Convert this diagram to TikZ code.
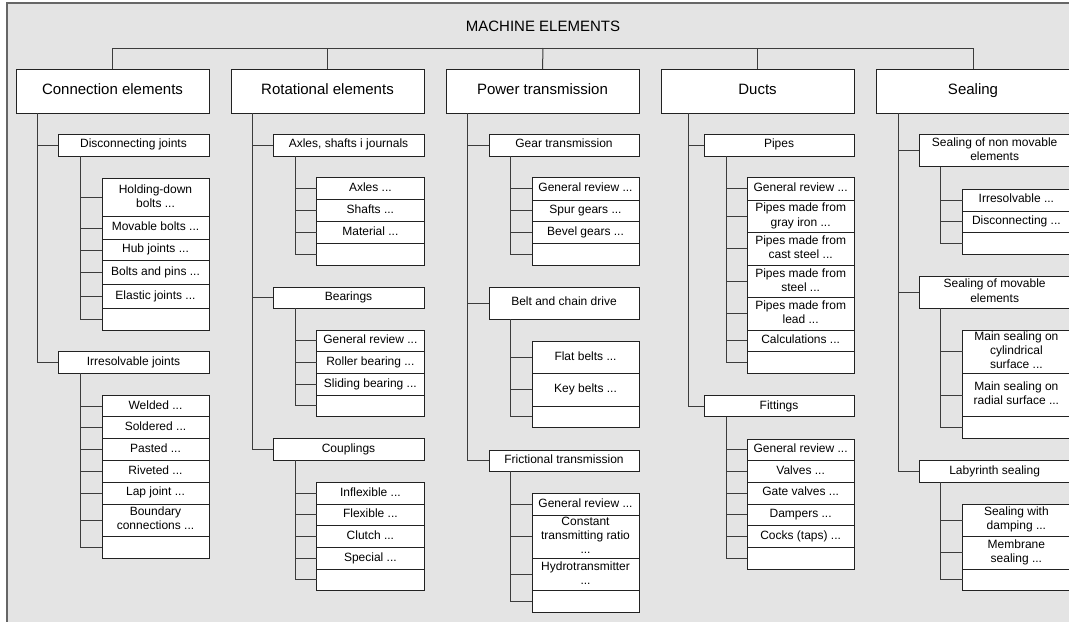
\documentclass[tikz,border=0pt]{standalone}
\usepackage{fontspec}
\setmainfont{Liberation Sans}
\usetikzlibrary{calc}
\definecolor{panelfill}{HTML}{E4E4E4}
\definecolor{framec}{HTML}{666666}
\definecolor{edgec}{HTML}{222222}
\definecolor{linkc}{HTML}{3C3C3C}
% box from its corners: name, x1, y1, x2, y2, style, text
\newcommand\bx[7]{\node[#6, minimum width={((#4)-(#2))*0.75pt}, minimum height={((#5)-(#3))*0.75pt}] (#1) at ({((#2)+(#4))/2},{((#3)+(#5))/2}) {#7};}
% elbow connector: parent, child, offset of the trunk from the parent's left side
\newcommand\lk[3]{\draw[linkline] ($(#1.south west)+(#3,0)$) |- (#2.west);}
% struts that keep the baselines of all boxes at the same height
\newcommand\smallstrut{\rule[-2.2pt]{0pt}{8.2pt}}
\newcommand\bigstrut{\rule[-2.5pt]{0pt}{10pt}}
\begin{document}
\begin{tikzpicture}[x=0.75pt,y=-0.75pt,
  box/.style={draw=edgec, fill=white, line width=0.75pt, inner sep=0pt, outer sep=0pt, align=center},
  topbox/.style={box, font=\fontsize{11.25}{13.5}\selectfont,
    execute at begin node=\bigstrut, execute at end node=\bigstrut},
  subbox/.style={box, font=\fontsize{9}{10.6}\selectfont,
    execute at begin node=\smallstrut, execute at end node=\smallstrut},
  linkline/.style={draw=linkc, line width=0.75pt}]
\useasboundingbox (0,0) rectangle (1069,621);
\fill[panelfill] (7,3) rectangle (1085,640);
\draw[framec, line width=1.3pt] (7,3) rectangle (1085,640);

\node[font=\fontsize{11.25}{13.5}\selectfont] (title) at (543,26.6) {MACHINE ELEMENTS};

% ---- Connection elements
\bx{ce}{16}{69}{209}{113}{topbox}{Connection elements}
\bx{dj}{58}{134}{209}{156}{subbox}{Disconnecting joints}
\bx{dja}{102}{178}{209}{216.7}{subbox}{Holding-down\\bolts ...}
\bx{djb}{102}{216.7}{209}{239.3}{subbox}{Movable bolts ...}
\bx{djc}{102}{239.3}{209}{260.7}{subbox}{Hub joints ...}
\bx{djd}{102}{260.7}{209}{284.3}{subbox}{Bolts and pins ...}
\bx{dje}{102}{284.3}{209}{308.3}{subbox}{Elastic joints ...}
\bx{djf}{102}{308.3}{209}{330}{subbox}{}
\bx{ij}{58}{351.7}{209}{373.3}{subbox}{Irresolvable joints}
\bx{ija}{102}{395.7}{209}{416.7}{subbox}{Welded ...}
\bx{ijb}{102}{416.7}{209}{438.7}{subbox}{Soldered ...}
\bx{ijc}{102}{438.7}{209}{460.3}{subbox}{Pasted ...}
\bx{ijd}{102}{460.3}{209}{482}{subbox}{Riveted ...}
\bx{ije}{102}{482}{209}{504}{subbox}{Lap joint ...}
\bx{ijf}{102}{504}{209}{536}{subbox}{Boundary\\connections ...}
\bx{ijg}{102}{536}{209}{558}{subbox}{}

% ---- Rotational elements
\bx{re}{231}{69}{424}{113}{topbox}{Rotational elements}
\bx{as}{273}{134}{424}{156}{subbox}{Axles, shafts i journals}
\bx{asa}{316.7}{177.7}{424}{199.5}{subbox}{Axles ...}
\bx{asb}{316.7}{199.5}{424}{221.7}{subbox}{Shafts ...}
\bx{asc}{316.7}{221.7}{424}{243.3}{subbox}{Material ...}
\bx{asd}{316.7}{243.3}{424}{265}{subbox}{}
\bx{be}{273}{287}{424}{308.3}{subbox}{Bearings}
\bx{bea}{316.7}{330}{424}{351.7}{subbox}{General review ...}
\bx{beb}{316.7}{351.7}{424}{373.3}{subbox}{Roller bearing ...}
\bx{bec}{316.7}{373.3}{424}{395}{subbox}{Sliding bearing ...}
\bx{bed}{316.7}{395}{424}{416.7}{subbox}{}
\bx{co}{273}{438.7}{424}{460.3}{subbox}{Couplings}
\bx{coa}{316.7}{482.7}{424}{504}{subbox}{Inflexible ...}
\bx{cob}{316.7}{504}{424}{525.7}{subbox}{Flexible ...}
\bx{coc}{316.7}{525.7}{424}{547.3}{subbox}{Clutch ...}
\bx{cod}{316.7}{547.3}{424}{569}{subbox}{Special ...}
\bx{coe}{316.7}{569}{424}{590.7}{subbox}{}

% ---- Power transmission
\bx{pt}{446}{69}{639}{113}{topbox}{Power transmission}
\bx{gt}{489}{134}{639}{156}{subbox}{Gear transmission}
\bx{gta}{532}{177.7}{639}{200}{subbox}{General review ...}
\bx{gtb}{532}{200}{639}{221.7}{subbox}{Spur gears ...}
\bx{gtc}{532}{221.7}{639}{243.3}{subbox}{Bevel gears ...}
\bx{gtd}{532}{243.3}{639}{265}{subbox}{}
\bx{bc}{489}{287}{639}{319}{subbox}{Belt and chain drive}
\bx{bca}{532}{341}{639}{373.3}{subbox}{Flat belts ...}
\bx{bcb}{532}{373.3}{639}{406}{subbox}{Key belts ...}
\bx{bcc}{532}{406}{639}{427.7}{subbox}{}
\bx{ft}{489}{450}{639}{471.3}{subbox}{Frictional transmission}
\bx{fta}{532}{493.3}{639}{515}{subbox}{General review ...}
\bx{ftb}{532}{515}{639}{558.3}{subbox}{Constant\\transmitting ratio\\...}
\bx{ftc}{532}{558.3}{639}{590.7}{subbox}{Hydrotransmitter\\...}
\bx{ftd}{532}{590.7}{639}{612.3}{subbox}{}

% ---- Ducts
\bx{du}{661}{69}{854}{113}{topbox}{Ducts}
\bx{pi}{704}{134}{854}{156}{subbox}{Pipes}
\bx{pia}{747.3}{177.7}{854}{200}{subbox}{General review ...}
\bx{pib}{747.3}{200}{854}{232.3}{subbox}{Pipes made from\\gray iron ...}
\bx{pic}{747.3}{232.3}{854}{265}{subbox}{Pipes made from\\cast steel ...}
\bx{pid}{747.3}{265}{854}{297.7}{subbox}{Pipes made from\\steel ...}
\bx{pie}{747.3}{297.7}{854}{330}{subbox}{Pipes made from\\lead ...}
\bx{pif}{747.3}{330}{854}{351.7}{subbox}{Calculations ...}
\bx{pig}{747.3}{351.7}{854}{373.3}{subbox}{}
\bx{fi}{704}{395.7}{854}{416.7}{subbox}{Fittings}
\bx{fia}{747.3}{439}{854}{460.3}{subbox}{General review ...}
\bx{fib}{747.3}{460.3}{854}{482}{subbox}{Valves ...}
\bx{fic}{747.3}{482}{854}{504}{subbox}{Gate valves ...}
\bx{fid}{747.3}{504}{854}{525.7}{subbox}{Dampers ...}
\bx{fie}{747.3}{525.7}{854}{547.3}{subbox}{Cocks (taps) ...}
\bx{fif}{747.3}{547.3}{854}{569}{subbox}{}

% ---- Sealing
\bx{se}{876}{69}{1070}{113}{topbox}{Sealing}
\bx{sn}{919.3}{134}{1070}{166.7}{subbox}{Sealing of non movable\\elements}
\bx{sna}{962.7}{189}{1070}{211}{subbox}{Irresolvable ...}
\bx{snb}{962.7}{211}{1070}{232.3}{subbox}{Disconnecting ...}
\bx{snc}{962.7}{232.3}{1070}{254}{subbox}{}
\bx{sm}{919.3}{276}{1070}{308.3}{subbox}{Sealing of movable\\elements}
\bx{sma}{962.7}{330}{1070}{373.3}{subbox}{Main sealing on\\cylindrical\\surface ...}
\bx{smb}{962.7}{373.3}{1070}{416.7}{subbox}{Main sealing on\\radial surface ...}
\bx{smc}{962.7}{416.7}{1070}{438.3}{subbox}{}
\bx{ls}{919.3}{460.3}{1070}{482}{subbox}{Labyrinth sealing}
\bx{lsa}{962.7}{504}{1070}{536}{subbox}{Sealing with\\damping ...}
\bx{lsb}{962.7}{536}{1070}{569}{subbox}{Membrane\\sealing ...}
\bx{lsc}{962.7}{569}{1070}{590.7}{subbox}{}

% ---- top bar joining the five groups
\coordinate (bar) at (543,48);
\draw[linkline] (ce.north) |- (bar) -| (se.north);
\draw[linkline] (re.north) |- (bar);
\draw[linkline] (pt.north) -- (bar);
\draw[linkline] (du.north) |- (bar);

% ---- trunks and branches
\foreach \c in {dj,ij} {\lk{ce}{\c}{21}}
\foreach \c in {dja,djb,djc,djd,dje,djf} {\lk{dj}{\c}{22}}
\foreach \c in {ija,ijb,ijc,ijd,ije,ijf,ijg} {\lk{ij}{\c}{22}}

\foreach \c in {as,be,co} {\lk{re}{\c}{21.7}}
\foreach \c in {asa,asb,asc,asd} {\lk{as}{\c}{22.7}}
\foreach \c in {bea,beb,bec,bed} {\lk{be}{\c}{22.7}}
\foreach \c in {coa,cob,coc,cod,coe} {\lk{co}{\c}{22.7}}

\foreach \c in {gt,bc,ft} {\lk{pt}{\c}{21.3}}
\foreach \c in {gta,gtb,gtc,gtd} {\lk{gt}{\c}{21.7}}
\foreach \c in {bca,bcb,bcc} {\lk{bc}{\c}{21.7}}
\foreach \c in {fta,ftb,ftc,ftd} {\lk{ft}{\c}{21.7}}

\foreach \c in {pi,fi} {\lk{du}{\c}{27.3}}
\foreach \c in {pia,pib,pic,pid,pie,pif,pig} {\lk{pi}{\c}{22}}
\foreach \c in {fia,fib,fic,fid,fie,fif} {\lk{fi}{\c}{22}}

\foreach \c in {sn,sm,ls} {\lk{se}{\c}{22.3}}
\foreach \c in {sna,snb,snc} {\lk{sn}{\c}{21.4}}
\foreach \c in {sma,smb,smc} {\lk{sm}{\c}{21.4}}
\foreach \c in {lsa,lsb,lsc} {\lk{ls}{\c}{21.4}}
\end{tikzpicture}
\end{document}
